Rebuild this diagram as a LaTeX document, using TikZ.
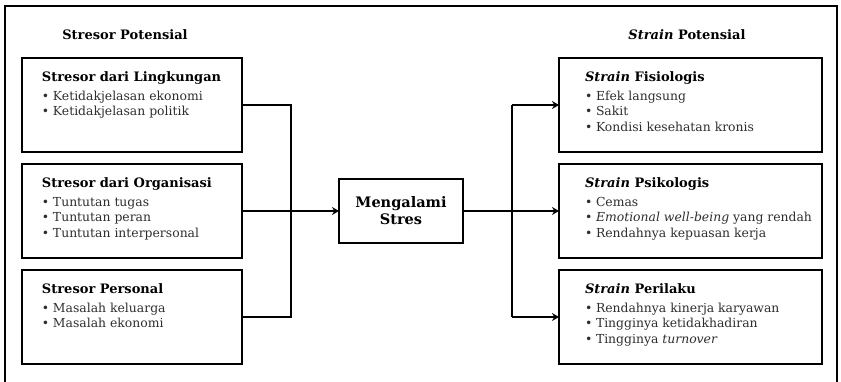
\documentclass[tikz,border=0pt]{standalone}
\usepackage{fontspec}
\setmainfont{DejaVu Serif}
\usetikzlibrary{arrows.meta,positioning}

\definecolor{teksabu}{gray}{0.18}

% one bullet line inside a box
\newcommand{\butir}[1]{\par\makebox[11pt][l]{\textbullet}#1}
% box content: indent, width, heading, bullet lines
\newcommand{\isikotak}[4]{%
  \hspace*{#1}\parbox[c][94pt][t]{\dimexpr#2-#1\relax}{\raggedright
    \vspace*{14pt}{\fontsize{13}{16}\selectfont\bfseries #3\par}
    \vspace{3pt}{\fontsize{12.4}{15.5}\selectfont\color{teksabu}#4\par}}}

\begin{document}
\begin{tikzpicture}[
    x = 1pt, y = 1pt,
    > = {Stealth[length=7pt,width=8pt]}, % arrow head style
    node distance = 12pt, % gap between stacked boxes
    thick
    ]

    \tikzset{
    kotak/.style = {draw, line width=2.5pt, inner sep=0pt, outer sep=0pt,
        anchor=north west, minimum height=94pt},
    judul/.style = {font=\fontsize{13}{16}\selectfont\bfseries},
    garis/.style = {line width=2.2pt}
    }

    \useasboundingbox (0,0) rectangle (841,382);
    \draw[line width=1.4pt] (5,0) -- (5,376) -- (837,376) -- (837,0);

    \node[judul] (tstresor) at (125,347) {Stresor Potensial};
    \node[judul] (tstrain) at (687,347) {\textit{Strain} Potensial};

    % stressors
    \node[kotak] (s1) at (22,324) {\isikotak{20pt}{220pt}{Stresor dari Lingkungan}{%
        \butir{Ketidakjelasan ekonomi}\butir{Ketidakjelasan politik}}};
    \node[kotak] (s2) [below=of s1] {\isikotak{20pt}{220pt}{Stresor dari Organisasi}{%
        \butir{Tuntutan tugas}\butir{Tuntutan peran}\butir{Tuntutan interpersonal}}};
    \node[kotak] (s3) [below=of s2] {\isikotak{20pt}{220pt}{Stresor Personal}{%
        \butir{Masalah keluarga}\butir{Masalah ekonomi}}};

    % strains
    \node[kotak] (r1) at (559,324) {\isikotak{26pt}{263pt}{\textit{Strain} Fisiologis}{%
        \butir{Efek langsung}\butir{Sakit}\butir{Kondisi kesehatan kronis}}};
    \node[kotak] (r2) [below=of r1] {\isikotak{26pt}{263pt}{\textit{Strain} Psikologis}{%
        \butir{Cemas}\butir{\textit{Emotional well-being} yang rendah}\butir{Rendahnya kepuasan kerja}}};
    \node[kotak] (r3) [below=of r2] {\isikotak{26pt}{263pt}{\textit{Strain} Perilaku}{%
        \butir{Rendahnya kinerja karyawan}\butir{Tingginya ketidakhadiran}\butir{Tingginya \textit{turnover}}}};

    \node[draw, line width=2.5pt, inner sep=0pt, outer sep=0pt, minimum width=124pt,
        minimum height=64pt, align=center,
        font=\fontsize{14.5}{17}\selectfont\bfseries] (stres) at (401,171) {Mengalami\\Stres};

    \coordinate (busL) at (291,171);
    \coordinate (busR) at (512,171);

    \draw[garis] (s1.east) -| (busL |- s3.east) -- (s3.east);
    \draw[garis,->] (s2.east) -- (stres.west);
    \draw[garis] (stres.east) -- (busR);
    \draw[garis] (busR |- r1.west) -- (busR |- r3.west);
    \foreach \r in {r1,r2,r3}
        \draw[garis,->] (busR |- \r.west) -- (\r.west);

\end{tikzpicture}
\end{document}
